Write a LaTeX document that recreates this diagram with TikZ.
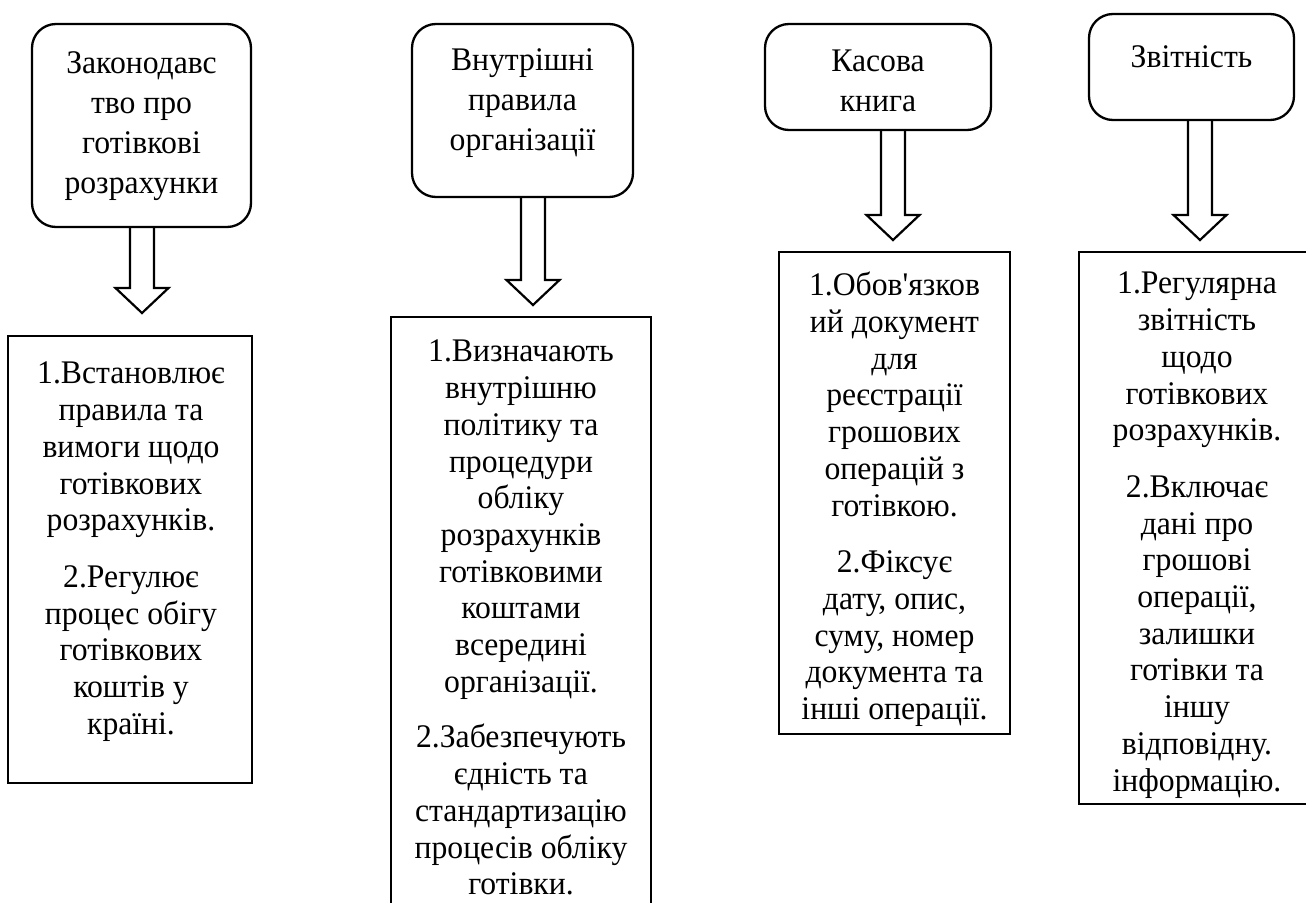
\documentclass[tikz,border=0pt]{standalone}
\usepackage{fontspec}
\setmainfont{Liberation Serif}[Ligatures=TeXOff, FakeStretch=0.96]
\usepackage{tikz}
\usetikzlibrary{calc,positioning}

\newcommand{\hollowdown}[2]{%
	\draw[line width=2.2pt, line join=miter]
		($(#1)+(-12,0)$) -- ($(#2)+(-12,-25)$) -- ($(#2)+(-26.5,-25)$) -- (#2)
		-- ($(#2)+(26.5,-25)$) -- ($(#2)+(12,-25)$) -- ($(#1)+(12,0)$);}

\begin{document}
\begin{tikzpicture}[x=1pt, y=-1pt,
		head/.style={draw, line width=2.3pt, rounded corners=24pt, inner sep=0pt},
		info/.style={draw, line width=2.4pt, inner sep=0pt},
		title/.style={align=center, inner sep=0pt, font=\fontsize{33}{40}\selectfont},
		body/.style={align=center, inner sep=0pt, anchor=north, font=\fontsize{33}{36.7}\selectfont}]
			\useasboundingbox (0,0) rectangle (1306,902);
			\clip (0,0) rectangle (1306,902);

			\node[head, minimum width=219, minimum height=203] (lawbox) at (141.5,125.5) {};
			\node[title] (law) at (141.5,126) {Законодавс\\тво про\\готівкові\\розрахунки};
			\node[head, minimum width=221, minimum height=173] (rulesbox) at (522.5,110.5) {};
			\node[title] (rules) at (522.5,103) {Внутрішні\\правила\\організації};
			\node[head, minimum width=226, minimum height=106] (cashbox) at (878,77) {};
			\node[title] (cashbook) at (878,81) {Касова\\книга};
			\node[head, minimum width=205, minimum height=106] (reportbox) at (1191.5,67) {};
			\node[title] (report) at (1191.5,57) {Звітність};

			\node[info, minimum width=244, minimum height=447] (lawinfo) at (130,559.5) {};
			\node[body] (lawtext) at (131,362) {1.Встановлює\\правила та\\вимоги щодо\\готівкових\\розрахунків.\\[20pt]
				2.Регулює\\процес обігу\\готівкових\\коштів у\\країні.};
			\node[info, minimum width=260, minimum height=620] (rulesinfo) at (521,627) {};
			\node[body] (rulestext) at (521,340) {1.Визначають\\внутрішню\\політику та\\процедури\\обліку\\розрахунків\\готівковими\\коштами\\всередині\\організації.\\[19pt]
				2.Забезпечують\\єдність та\\стандартизацію\\процесів обліку\\готівки.};
			\node[info, minimum width=231, minimum height=482] (cashinfo) at (894.5,493) {};
			\node[body] (cashtext) at (894.5,272) {1.Обов'язков\\ий документ\\для\\реєстрації\\грошових\\операцій з\\готівкою.\\[20pt]
				2.Фіксує\\дату, опис,\\суму, номер\\документа та\\інші операції.};
			\node[info, minimum width=236, minimum height=552] (reportinfo) at (1197,528) {};
			\node[body] (reporttext) at (1197,272) {1.Регулярна\\звітність\\щодо\\готівкових\\розрахунків.\\[20pt]
				2.Включає\\дані про\\грошові\\операції,\\залишки\\готівки та\\іншу\\відповідну.\\інформацію.};

			\coordinate (lawtip) at (142,313);
			\coordinate (rulestip) at (533,305);
			\coordinate (cashtip) at (893,240);
			\coordinate (reporttip) at (1200,240);

			\hollowdown{lawbox.south -| lawtip}{lawtip}
			\hollowdown{rulesbox.south -| rulestip}{rulestip}
			\hollowdown{cashbox.south -| cashtip}{cashtip}
			\hollowdown{reportbox.south -| reporttip}{reporttip}
	\end{tikzpicture}
\end{document}
